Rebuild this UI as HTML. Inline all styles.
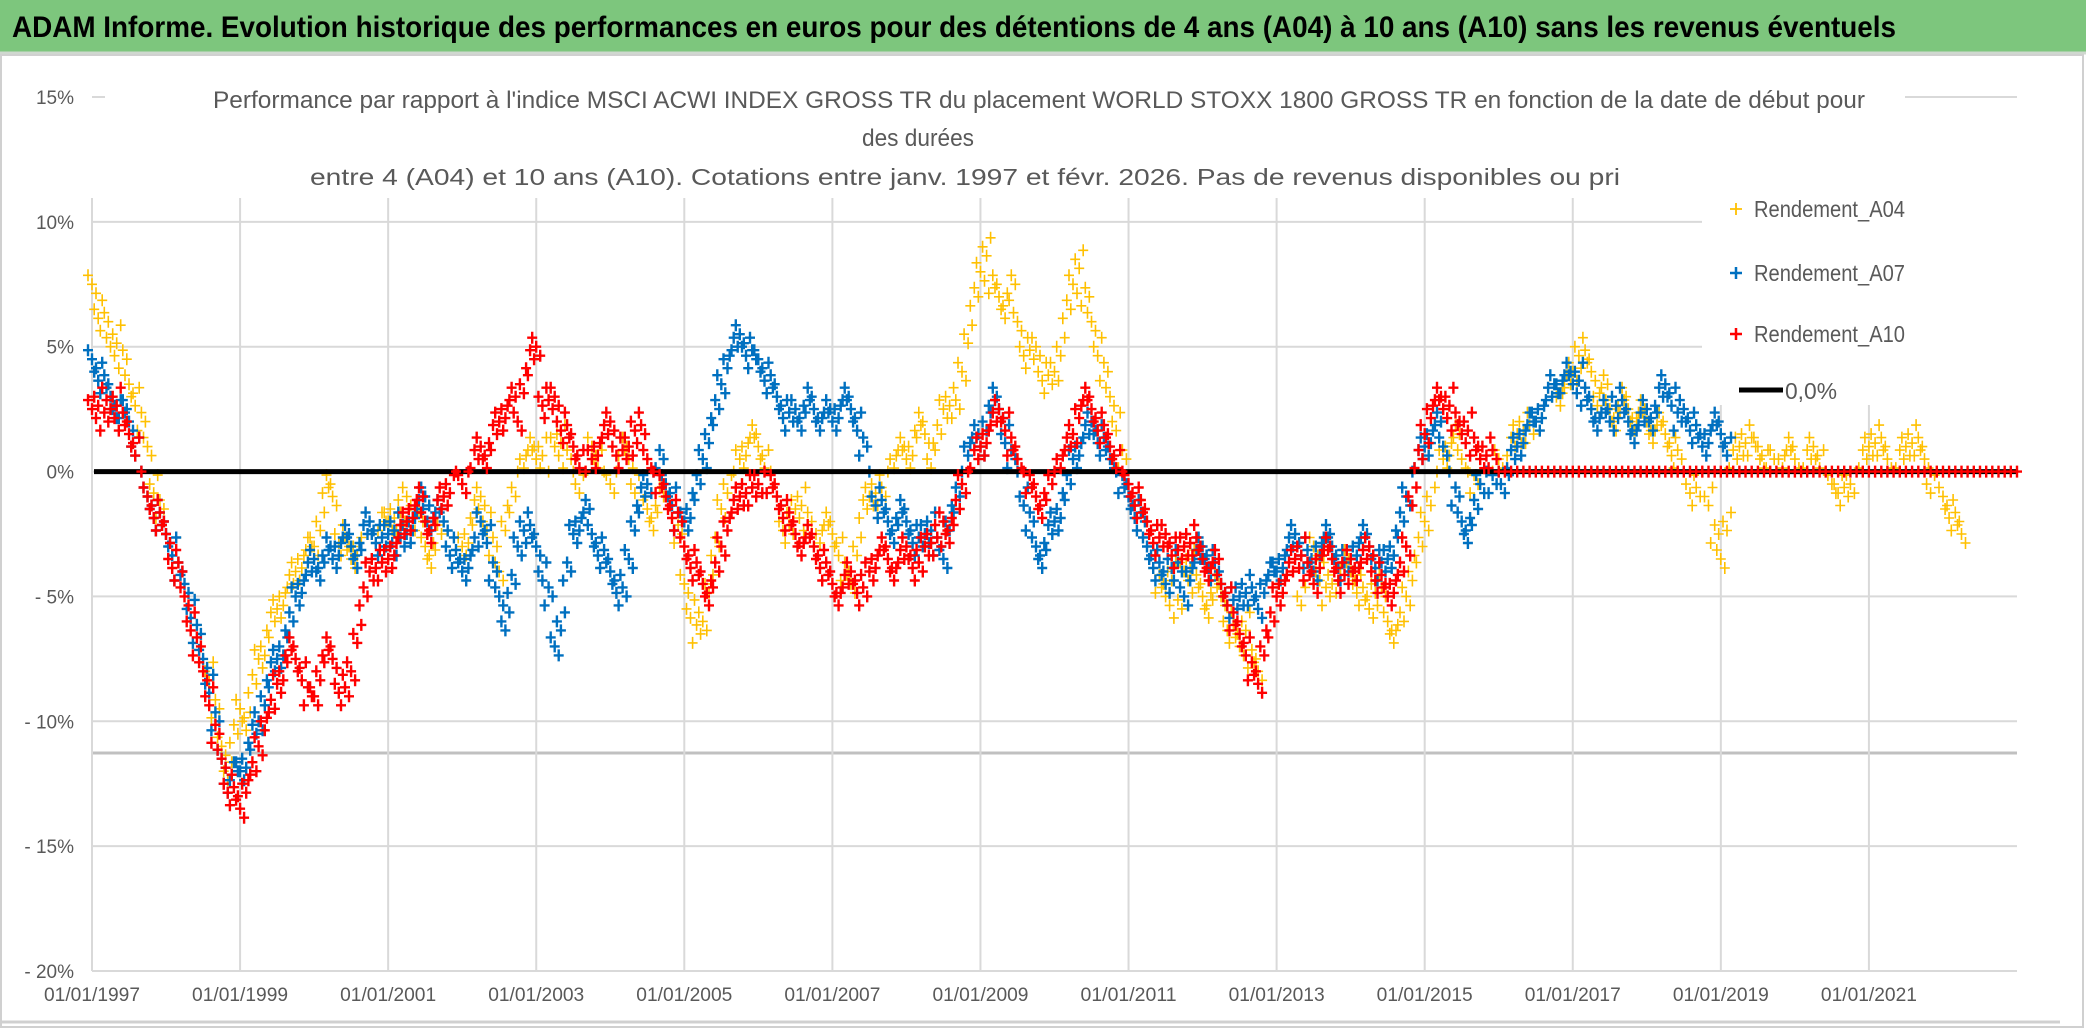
<!DOCTYPE html>
<html><head><meta charset="utf-8">
<style>
html,body{margin:0;padding:0;background:#fff;}
svg{display:block;font-family:"Liberation Sans",sans-serif;}
</style></head>
<body>
<svg id="chart" width="2086" height="1031" viewBox="0 0 2086 1031">
  <rect x="0" y="0" width="2086" height="1031" fill="#fff"/>
  <rect x="0" y="0" width="2086" height="52" fill="#7dc67d"/>
  <line x1="0" y1="53" x2="2086" y2="53" stroke="#cfd8cf" stroke-width="3"/>
  <text x="12" y="37" font-size="30" font-weight="bold" fill="#000" textLength="1884" lengthAdjust="spacingAndGlyphs">ADAM Informe. Evolution historique des performances en euros pour des détentions de 4 ans (A04) à 10 ans (A10) sans les revenus éventuels</text>
  <rect x="1" y="55" width="2082" height="972" fill="none" stroke="#d0d0d0" stroke-width="2"/>
  <line x1="0" y1="1022" x2="2060" y2="1022" stroke="#d0d0d0" stroke-width="3"/>
  <g id="grid"></g>
  <g id="yticks"></g>
  <g id="xticks"></g>
  <rect x="105" y="78" width="1800" height="118" fill="#fff"/>
  <rect x="1702" y="190" width="330" height="215" fill="#fff"/>
  <g fill="#595959" font-size="24">
    <text x="213" y="108" textLength="1652" lengthAdjust="spacingAndGlyphs">Performance par rapport à l'indice MSCI ACWI INDEX GROSS TR  du placement WORLD STOXX 1800 GROSS TR en fonction de la date de début pour</text>
    <text x="918" y="146" text-anchor="middle" textLength="112" lengthAdjust="spacingAndGlyphs">des durées</text>
    <text x="310" y="185" font-size="23" textLength="1310" lengthAdjust="spacingAndGlyphs">entre 4 (A04) et 10 ans (A10). Cotations entre janv. 1997 et févr. 2026. Pas de revenus disponibles ou pri</text>
  </g>
  <g id="plot"></g>
  <g id="legend" font-size="23" fill="#595959">
    <g>
      <path d="M1730 209h12M1736 203v12" stroke="#FFC000" stroke-width="1.8"/>
      <text x="1754" y="217" textLength="151" lengthAdjust="spacingAndGlyphs">Rendement_A04</text>
    </g>
    <g>
      <path d="M1730 273h12M1736 267v12" stroke="#0070C0" stroke-width="2.5"/>
      <text x="1754" y="281" textLength="151" lengthAdjust="spacingAndGlyphs">Rendement_A07</text>
    </g>
    <g>
      <path d="M1730 334h12M1736 328v12" stroke="#FF0000" stroke-width="2.5"/>
      <text x="1754" y="342" textLength="151" lengthAdjust="spacingAndGlyphs">Rendement_A10</text>
    </g>
    <g>
      <line x1="1739" y1="390" x2="1783" y2="390" stroke="#000" stroke-width="5"/>
      <text x="1785" y="399" textLength="52" lengthAdjust="spacingAndGlyphs">0,0%</text>
    </g>
  </g>
</svg>
<script>
// Data (monthly samples, % values) starting January 1997
const startYear = 1997;
const yTickValues = [15,10,5,0,-5,-10,-15,-20];
const yTickLabels = ["15%","10%","5%","0%","- 5%","- 10%","- 15%","- 20%"];
const xTickYears = [1997,1999,2001,2003,2005,2007,2009,2011,2013,2015,2017,2019,2021];
const xTickLabels = ["01/01/1997","01/01/1999","01/01/2001","01/01/2003","01/01/2005","01/01/2007","01/01/2009","01/01/2011","01/01/2013","01/01/2015","01/01/2017","01/01/2019","01/01/2021"];
const rendementA04 = [
7.5,6.5,6,5,5.5,4.5,3.5,3,2,1,-0.5,-1.5,
-2.5,-3,-4,-4.5,-5.5,-6.5,-7.5,-8,-9.5,-11,-12,-10.5,
-9.5,-10,-8.5,-7.5,-7,-6,-5.5,-5,-4.5,-4,-3.5,-3,
-3,-2,-0.5,-1,-2.5,-3,-3.5,-3,-2.5,-2,-2.5,-2,
-2,-1.5,-2,-1,-1.5,-2,-3,-3.5,-2.5,-2,-3,-3.5,
-3,-2.5,-1.5,-1,-2,-3,-4,-2,-1,0,0.5,1,
0.5,1,0,1,1.5,0.5,0,-0.5,0,1,0.5,0,
-0.5,0,1,0.5,-0.5,-1,-1.5,-2,-1,-0.5,-1,-2.5,
-4.5,-5.5,-6.5,-6,-4.5,-3,-1.5,-0.5,0,0.5,1,1.5,
1,0.5,0,-1,-2,-2.5,-1.5,-1,-2,-3,-2.5,-2,
-2.5,-3,-4,-4.5,-3,-1.5,-1,-0.5,-1,0,0.5,1,
0.5,1,2,1.5,0.5,1.5,2.5,3,2.5,4,5.5,7,
8,9,7.5,7,6.5,7.5,6,5,4.5,5,4,3.5,
4,5,6.5,7.5,8.5,7,6,5,4,3,2,0.5,
-0.5,-1,-2,-3,-3.5,-4.5,-5,-4,-5.5,-4,-3.5,-4.5,
-5,-5.5,-4.5,-5,-6,-6.5,-7,-6,-7.5,-8,-7,-6,
-5,-4.5,-4,-3.5,-5,-4,-3,-4,-5,-4.5,-4,-3.5,
-4,-4.5,-5,-5.5,-4.5,-5,-6,-6.5,-6,-5,-4,-3,
-2,-1,0,0.5,1,1.5,0.5,0,-0.5,0.5,1,0,
0.5,0,1,1.5,2,1.5,2,2.5,3,3.5,3,3.5,
4,5,4.5,4,3,3.5,2.5,2,3,2.5,2,2.5,
2,1.5,2,1.5,1,0.5,0,-0.5,-1,0,-1,-2.5,
-3.5,-2,0.5,1,1.5,1,1,0.5,0.5,0,0.5,1,
0.5,0,0.5,1,0.5,0,-0.5,-0.5,-1,-0.5,0,0.5,
1,1.5,1,0.5,0,0.5,1,1.5,1,0.5,-0.5,0,
-1,-1.5,-2,-2.5];
const rendementA07 = [
4.5,4,3.5,3,2.5,2.5,2,1,0,-1,-1.5,-2,
-2.5,-3,-4,-4.5,-5.5,-6.5,-7.5,-8.5,-10,-11.5,-12.5,-12,
-12,-11.5,-10.5,-10,-9,-8,-7.5,-7,-6,-5,-4.5,-4,
-3.5,-4,-3,-3.5,-3,-2.5,-3,-3.5,-2.5,-2,-2.5,-3,
-2.5,-2,-3,-2.5,-2,-1.5,-1,-2,-1.5,-2,-3,-3.5,
-4,-3.5,-3,-2,-2.5,-4,-5,-6,-4.5,-3,-2,-2.5,
-3,-4,-5,-7,-6,-4,-2.5,-2,-1.5,-2.5,-3,-3.5,
-4,-4.5,-5,-3.5,-2,-1,-0.5,0,0.5,-0.5,-1,-2,
-2,-1.5,-0.5,0.5,1.5,2.5,3.5,4.5,5,5.5,5,4.5,
4.5,4,3.5,3,2.5,2,2.5,2,3,2.5,2,2.5,
2,2.5,3,2.5,2,1,0,-1,-1.5,-2,-2.5,-1.5,
-2,-2.5,-3,-2.5,-2,-3,-3.5,-2,-1,0,1,1.5,
1,2,3,2.5,1.5,0.5,0,-1,-2,-3,-3.5,-2.5,
-2,-1.5,-0.5,0.5,1,1.5,2,1.5,1,0.5,0,-0.5,
-1,-1.5,-2,-3,-3.5,-4,-4.5,-3.5,-4,-5,-4,-3.5,
-3,-3.5,-4,-4.5,-5,-5.5,-5,-4.5,-5,-5.5,-4.5,-4,
-4,-3.5,-3,-2.5,-3,-3.5,-4,-3,-2.5,-3,-3.5,-4,
-3.5,-3,-2.5,-3,-3.5,-4,-3.5,-3,-2,-1,0,0.5,
1,1.5,2,1,0,-1,-2,-2.5,-1.5,-0.5,0,-0.5,
0,-0.5,0.5,1,1.5,2,2,2.5,3,3.5,3.5,4,
3.5,4,3,2.5,2,2.5,2,3,2.5,2,1.5,2,
2.5,2,3,3.5,3,2,2.5,2,1.5,1,1.5,2,
1.5,1];
const rendementA10 = [
2.5,3,2,2.5,3,2,1.5,1,0,-1,-1.5,-2,
-2.5,-3.5,-4,-5,-6,-7,-8,-9,-10.5,-11.5,-12.5,-13,
-13.5,-12.5,-12,-11,-10,-9.5,-8.5,-8,-7,-7.5,-8,-9,
-9,-8,-7,-7.5,-8.5,-9,-8,-6.5,-5,-4,-3.5,-4,
-3.5,-3,-2.5,-2,-1.5,-1,-2,-2.5,-1.5,-1,-0.5,0,
-0.5,0,0.5,1,0.5,1.5,2,2.5,3,2,3.5,4.5,
5,3,2.5,3,2,1.5,1,0.5,0,0.5,1,1.5,
2,1,0.5,1,2,1.5,0.5,0,-0.5,-1,-1.5,-2,
-3,-3.5,-4,-4.5,-5,-4,-3,-2,-1.5,-1,-0.5,-1,
-0.5,0,-0.5,-1,-1.5,-2,-2.5,-3,-2.5,-3,-3.5,-4,
-4.5,-5,-4.5,-4,-4.5,-5,-4,-3.5,-3,-3.5,-4,-3.5,
-3,-3.5,-4,-3,-2.5,-3,-2,-2.5,-1.5,-0.5,0,0.5,
1,1.5,2,2.5,2,1,0.5,0,-0.5,-1,-1.5,-0.5,
0,0.5,1,1.5,2.5,3,2.5,2,1.5,1,0.5,0,
-0.5,-1,-1.5,-2,-2.5,-3,-2.5,-3,-3.5,-3,-2.5,-3,
-3.5,-4,-3.5,-4.5,-5,-6,-6.5,-7,-8,-8.5,-7,-6,
-5,-4.5,-4,-3.5,-3,-4,-4.5,-3.5,-3,-3.5,-4,-4.5,
-3.5,-4,-3.5,-3,-4,-4.5,-5,-4.5,-4,-3,-1,0.5,
1.5,2.5,3,2.5,3,2,1.5,2,1,0.5,1,0.5,
0,0,0,0,0,0,0,0,0,0,0,0,
0,0,0,0,0,0,0,0,0,0,0,0,
0,0,0,0,0,0,0,0,0,0,0,0,
0,0,0,0,0,0,0,0,0,0,0,0,
0,0,0,0,0,0,0,0,0,0,0,0,
0,0,0,0,0,0,0,0,0,0,0,0,
0,0,0,0,0,0,0,0,0,0,0,0,0];
const zeroLineValue = 0;

const NS = "http://www.w3.org/2000/svg";
const X0 = 92, X1 = 2017, Y0 = 97, Y1 = 971;
const yearMin = 1997, yearMax = 2023, pMax = 15, pMin = -20;
function xScale(yr){ return X0 + (yr - yearMin) / (yearMax - yearMin) * (X1 - X0); }
function yScale(p){ return Y0 + (pMax - p) / (pMax - pMin) * (Y1 - Y0); }
function mk(tag, attrs, parent){ const e = document.createElementNS(NS, tag); for (const k in attrs) e.setAttribute(k, attrs[k]); parent.appendChild(e); return e; }

const grid = document.getElementById('grid');
yTickValues.forEach(function(v){
  const y = yScale(v);
  const l = mk('line', {x1:X0, y1:y, x2:X1, y2:y, stroke:'#d9d9d9', 'stroke-width':2}, grid);
  
  
});
const extra = mk('line', {x1:X0, y1:753, x2:X1, y2:753, stroke:'#c0c0c0', 'stroke-width':3}, grid);


xTickYears.forEach(function(yr){
  const x = xScale(yr);
  const l = mk('line', {x1:x, y1:198, x2:x, y2:Y1, stroke:'#d9d9d9', 'stroke-width':2}, grid);
  
  
});
const yt = document.getElementById('yticks');
yTickValues.forEach(function(v, i){
  const t = mk('text', {x:74, y:yScale(v)+7, 'text-anchor':'end', 'font-size':19, fill:'#595959'}, yt);
  t.textContent = yTickLabels[i];
  
  
});
const xt = document.getElementById('xticks');
xTickYears.forEach(function(yr, i){
  const t = mk('text', {x:xScale(yr), y:1001, 'text-anchor':'middle', 'font-size':19, fill:'#595959', textLength:96, lengthAdjust:'spacingAndGlyphs'}, xt);
  t.textContent = xTickLabels[i];
  
  
});

// marker cluster layout (pixel offsets, style only) to mimic dense daily cloud
const clusterDX = [-4, 0, 4];
const clusterDY = [-9, 0, 9];
const plot = document.getElementById('plot');
function drawSeries(values, color, sw, name, spread){
  const g = mk('g', {stroke:color, 'stroke-width':sw, fill:'none'}, plot);
  
  
  let d = '';
  values.forEach(function(v, i){
    const cx = xScale(startYear + i / 12), cy = yScale(v);
    const n = (spread && v !== 0) ? clusterDX.length : 1;
    for (let k = 0; k < n; k++) {
      const j = (i + k) % 3;
      const x = cx + (n > 1 ? clusterDX[k] : 0), y = cy + (n > 1 ? clusterDY[j] : 0);
      d += 'M' + (x-5).toFixed(1) + ' ' + y.toFixed(1) + 'h10M' + x.toFixed(1) + ' ' + (y-6).toFixed(1) + 'v12';
    }
  });
  const p = mk('path', {d:d}, g);
  
  
}
drawSeries(rendementA04, '#FFC000', 1.6, 'series-a04', true);
drawSeries(rendementA07, '#0070C0', 2.4, 'series-a07', true);
const zl = mk('line', {x1:X0+2, y1:yScale(zeroLineValue), x2:X1, y2:yScale(zeroLineValue), stroke:'#000', 'stroke-width':5}, plot);


drawSeries(rendementA10, '#FF0000', 2.4, 'series-a10', true);
</script>
</body></html>
